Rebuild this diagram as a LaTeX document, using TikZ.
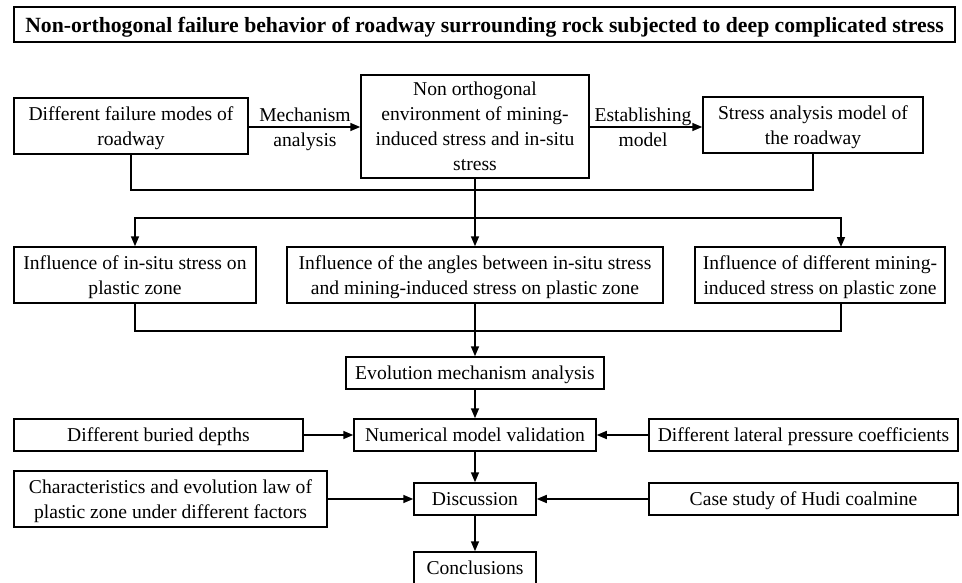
\documentclass[tikz,border=0pt]{standalone}
\usepackage{fontspec}
\setmainfont{Liberation Serif}
\usetikzlibrary{arrows.meta}
\begin{document}
\begin{tikzpicture}[x=1pt,y=-1pt,
  box/.style={draw,line width=1.5pt,align=center,inner sep=0pt,text depth=0pt,font=\fontsize{19.6}{25}\selectfont},
  arr/.style={line width=1.5pt,-{Triangle[length=10pt,width=8pt]}},
  ln/.style={line width=1.5pt},
  lbl/.style={align=center,inner sep=0pt,text depth=0pt,font=\fontsize{19.6}{25}\selectfont}]
\useasboundingbox (0,0) rectangle (962,583);
% title
\node[draw,line width=1.5pt,minimum width=941pt,minimum height=35pt,inner sep=0pt,text depth=0pt,font=\fontsize{21.7}{25}\bfseries\selectfont] (T) at (484.5,24.5) {Non-orthogonal failure behavior of roadway surrounding rock subjected to deep complicated stress};
% row 1
\node[box,minimum width=234pt,minimum height=56pt] (A) at (131,126) {Different failure modes of\\roadway};
\node[box,minimum width=228pt,minimum height=103pt] (B) at (475,126.5) {Non orthogonal\\environment of mining-\\induced stress and in-situ\\stress};
\node[box,minimum width=220pt,minimum height=56pt] (C) at (813,125) {Stress analysis model of\\the roadway};
\draw[arr] (A.east |- 0,127) -- (B.west |- 0,127);
\draw[arr] (B.east |- 0,127) -- (C.west |- 0,127);
\node[lbl] (L1) at (305,127) {Mechanism\\analysis};
\node[lbl] (L2) at (643,127) {Establishing\\model};
% row 2
\node[box,minimum width=242pt,minimum height=56pt] (D) at (135,275) {Influence of in-situ stress on\\plastic zone};
\node[box,minimum width=376pt,minimum height=56pt] (E) at (475,275) {Influence of the angles between in-situ stress\\and mining-induced stress on plastic zone};
\node[box,minimum width=250pt,minimum height=56pt] (F) at (820,275) {Influence of different mining-\\induced stress on plastic zone};
\coordinate (j1) at (475,190);
\coordinate (j2) at (475,218);
\coordinate (Fin) at (841,247);
\coordinate (Fout) at (841,303);
\coordinate (j3) at (475,331);
\draw[ln] (A.south) |- (j1);
\draw[ln] (C.south) |- (j1);
\draw[arr] (B.south) -- (E.north);
\draw[arr] (j2) -| (D.north);
\draw[arr] (j2) -| (Fin);
\draw[ln] (D.south) |- (j3);
\draw[ln] (Fout) |- (j3);
% row 3
\node[box,minimum width=258pt,minimum height=32pt] (G) at (475,373) {Evolution mechanism analysis};
\draw[arr] (E.south) -- (G.north);
% row 4
\node[box,minimum width=289pt,minimum height=32pt] (H) at (158.5,435) {Different buried depths};
\node[box,minimum width=242pt,minimum height=32pt] (I) at (475,435) {Numerical model validation};
\node[box,minimum width=309pt,minimum height=32pt] (J) at (803.5,435) {Different lateral pressure coefficients};
\draw[arr] (G.south) -- (I.north);
\draw[arr] (H.east) -- (I.west);
\draw[arr] (J.west) -- (I.east);
% row 5
\node[box,minimum width=313pt,minimum height=56pt] (K) at (170.5,499) {Characteristics and evolution law of\\plastic zone under different factors};
\node[box,minimum width=122pt,minimum height=32pt] (Ls) at (475,499) {Discussion};
\node[box,minimum width=309pt,minimum height=32pt] (M) at (803.5,499) {Case study of Hudi coalmine};
\draw[arr] (I.south) -- (Ls.north);
\draw[arr] (K.east) -- (Ls.west);
\draw[arr] (M.west) -- (Ls.east);
% row 6
\node[box,minimum width=122pt,minimum height=32pt] (N) at (475,568) {Conclusions};
\draw[arr] (Ls.south) -- (N.north);
\end{tikzpicture}
\end{document}
